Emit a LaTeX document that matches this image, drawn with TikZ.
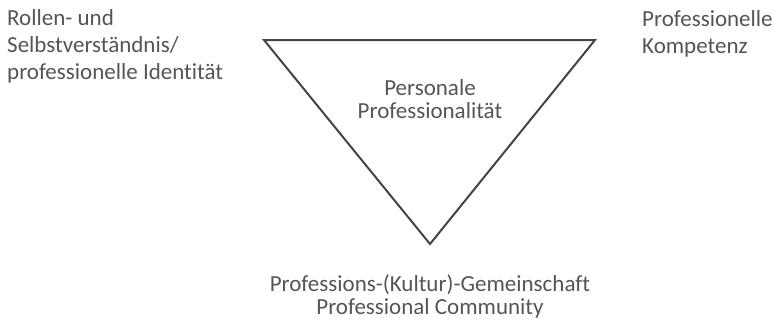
\documentclass[tikz,border=0pt]{standalone}
\usepackage{fontspec}
\setmainfont[Ligatures={NoCommon}]{Carlito}
\definecolor{txt}{HTML}{555555}
\definecolor{ln}{HTML}{444444}
\begin{document}
\begin{tikzpicture}[x=1pt,y=-1pt,
  lbl/.style={text=txt,font=\fontsize{23}{27}\selectfont,inner sep=0pt}]
\useasboundingbox (0,0) rectangle (772,322);
\coordinate (tl) at (264,40);
\coordinate (tr) at (595,40);
\coordinate (bt) at (430,244);
\draw[ln,line width=2pt,line join=miter] (tl) -- (tr) -- (bt) -- cycle;
\node[lbl,anchor=base west] (l1) at (7,25) {Rollen- und};
\node[lbl,anchor=base west] (l2) at (7,52) {Selbstverständnis/};
\node[lbl,anchor=base west] (r1) at (642,26) {Professionelle};
\node[lbl,anchor=base west] (r2) at (642,53) {Kompetenz};
\node[lbl,anchor=base west] (l3) at (7,79) {professionelle Identität};
\node[lbl,anchor=base] (c1) at (430,95) {Personale};
\node[lbl,anchor=base] (c2) at (430,118) {Professionalität};
\node[lbl,anchor=base] (b1) at (430,291) {Professions-(Kultur)-Gemeinschaft};
\node[lbl,anchor=base] (b2) at (430,314) {Professional Community};
\end{tikzpicture}
\end{document}
